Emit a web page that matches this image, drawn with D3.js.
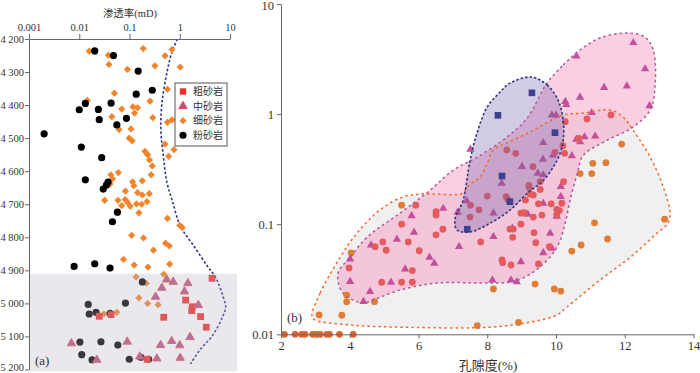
<!DOCTYPE html>
<html>
<head>
<meta charset="utf-8">
<script src="https://cdn.jsdelivr.net/npm/d3@7"></script>
<style>
body { margin: 0; background: #fff; }
svg text { font-family: "Liberation Serif", "Times New Roman", "Noto Sans CJK SC", serif; fill: #333; }
.axis path, .axis line { stroke: #666; }
</style>
</head>
<body>
<svg id="chart" width="700" height="373" font-family="Liberation Serif, Noto Sans CJK SC, serif"></svg>
<script>
const serif = "'Liberation Serif', 'Times New Roman', 'Noto Sans CJK SC', serif";

// ---------- panel (a): permeability vs depth ----------
const permTicks = [0.001, 0.01, 0.1, 1, 10];
const depthTicks = [4200, 4300, 4400, 4500, 4600, 4700, 4800, 4900, 5000, 5100, 5200];
const shadeDepth = [4910, 5200];
const legendNames = ["粗砂岩", "中砂岩", "细砂岩", "粉砂岩"];

// [permeability mD, depth m]
const coarseA = [[4.4,4924],[0.025,5039],[0.043,5034],[1.31,4990],[1.78,5010],[1.73,5022],[0.48,5042],[2.6,5040],[3.37,5072],[0.224,5169]];
const mediumA = [[0.55,4928],[0.74,4935],[1.45,4939],[0.44,4953],[1.24,4964],[0.33,4980],[2.34,5005],[0.007,5121],[0.090,5116],[0.415,5126],[0.69,5114],[1.0,5127],[1.6,5102],[0.0224,5171],[0.16,5161],[0.35,5167],[1.02,5165]];
const fineA = [[0.0158,4237],[0.038,4249],[0.188,4229],[0.51,4251],[0.70,4232],[0.039,4277],[0.091,4292],[0.32,4281],[1.02,4285],[0.57,4352],[0.05,4364],[0.256,4388],[0.0145,4386],[0.070,4412],[0.117,4405],[0.145,4408],[0.126,4424],[0.0445,4435],[0.29,4438],[0.57,4452],[0.70,4445],[0.107,4472],[0.062,4474],[0.099,4500],[0.113,4508],[0.51,4518],[0.77,4535],[0.203,4540],[0.23,4550],[0.60,4555],[0.25,4566],[0.284,4584],[0.060,4604],[0.0425,4611],[0.27,4611],[0.046,4623],[0.115,4632],[0.18,4629],[0.122,4644],[0.041,4639],[0.083,4660],[0.145,4665],[0.248,4668],[0.18,4672],[0.032,4688],[0.059,4688],[0.082,4686],[0.091,4694],[0.138,4699],[0.070,4704],[0.103,4706],[0.174,4700],[0.223,4692],[0.154,4726],[0.57,4743],[1.0,4764],[1.12,4770],[0.11,4794],[0.19,4802],[0.52,4818],[0.62,4826],[0.30,4839],[0.076,4867],[0.63,4881],[0.124,4884],[0.233,4890],[0.48,4912],[0.135,4920],[0.216,4939],[0.154,4983],[0.23,5000],[0.37,5004],[0.031,5032],[0.056,5027]];
const siltA = [[0.0203,4236],[0.048,4250],[0.149,4297],[0.284,4355],[0.136,4367],[0.0132,4395],[0.010,4414],[0.024,4413],[0.043,4394],[0.025,4444],[0.087,4440],[0.056,4460],[0.002,4487],[0.011,4527],[0.028,4559],[0.0132,4626],[0.0375,4633],[0.0347,4642],[0.030,4654],[0.0575,4724],[0.0457,4753],[0.0079,4888],[0.0203,4880],[0.041,4893],[0.18,4935],[0.0151,5003],[0.083,4999],[0.0158,5032],[0.0216,5027],[0.041,5030],[0.0103,5117],[0.027,5116],[0.0586,5126],[0.0112,5155],[0.018,5171],[0.099,5169],[0.169,5163],[0.24,5169]];
const trendA = [[0.90,4200],[0.70,4239],[0.56,4299],[0.445,4390],[0.42,4470],[0.46,4540],[0.56,4636],[0.70,4686],[1.03,4766],[1.9,4826],[3.53,4887],[5.2,4922],[7.4,4982],[8.2,5012],[7.05,5042],[4.45,5098],[2.6,5138],[1.64,5183]];

// ---------- panel (b): porosity vs permeability ----------
const porTicks = [2, 4, 6, 8, 10, 12, 14];
const kTicks = [0.01, 0.1, 1, 10];

// [porosity %, permeability mD]
const coarseB = [[9.30,1.56],[8.31,0.975],[9.97,0.678],[8.43,0.274],[8.66,0.160],[7.42,0.090]];
const mediumB = [[4.01,0.0483],[4.01,0.0301],[4.62,0.0647],[4.59,0.0244],[4.40,0.0198],[5.20,0.0297],[5.37,0.073],[5.61,0.0392],[5.80,0.119],[5.87,0.0844],[6.32,0.050],[6.46,0.0442],[6.72,0.139],[7.18,0.0625],[7.14,0.128],[7.40,0.163],[8.18,0.077],[8.15,0.0311],[8.69,0.0311],[8.86,0.030],[8.98,0.0456],[8.73,0.0916],[8.42,0.235],[9.18,0.123],[9.63,0.155],[9.83,0.0826],[9.63,0.055],[9.88,0.0604],[10.02,0.118],[10.14,0.178],[10.14,0.219],[8.18,0.126],[7.51,0.479],[9.01,0.333],[9.63,0.55],[9.62,0.388],[9.47,0.29],[9.63,0.28],[9.91,0.425],[9.88,0.98],[10.0,0.98],[10.27,1.30],[10.30,1.22],[10.70,1.42],[10.59,3.37],[12.25,4.45],[12.59,2.57],[11.40,1.74],[12.06,1.80],[12.72,1.19],[11.04,1.03],[10.59,0.59],[10.83,0.62],[11.14,0.63],[10.70,0.56],[10.46,0.417]];
const fineB = [[5.92,0.149],[5.51,0.100],[6.51,0.130],[6.51,0.121],[6.51,0.080],[6.71,0.090],[4.96,0.069],[4.74,0.0625],[5.06,0.058],[5.70,0.069],[6.02,0.0574],[3.98,0.040],[5.82,0.0379],[4.93,0.0297],[5.51,0.0297],[5.82,0.0297],[7.51,0.149],[7.50,0.116],[7.76,0.135],[8.0,0.180],[7.81,0.069],[8.55,0.178],[8.60,0.168],[9.22,0.216],[9.25,0.188],[9.34,0.184],[9.54,0.207],[9.11,0.166],[9.49,0.153],[9.86,0.153],[10.02,0.136],[10.17,0.155],[8.98,0.126],[9.07,0.127],[9.34,0.116],[9.59,0.121],[10.02,0.121],[10.10,0.133],[8.98,0.100],[8.66,0.0904],[8.76,0.0904],[8.74,0.076],[9.36,0.0838],[9.41,0.068],[9.81,0.0625],[8.43,0.0473],[8.45,0.0447],[8.69,0.0426],[9.49,0.0435],[8.57,0.472],[8.83,0.44],[9.33,0.333],[10.27,0.853],[10.90,0.904],[11.60,0.982],[10.20,0.516],[10.25,0.44],[9.97,0.45],[10.67,0.603],[10.22,0.243],[9.54,0.243],[9.21,0.225]];
const siltB = [[3.11,0.0150],[3.77,0.0149],[3.91,0.0227],[3.91,0.0198],[4.04,0.055],[4.72,0.0198],[5.51,0.149],[7.71,0.0120],[8.18,0.0258],[8.91,0.0128],[9.39,0.0286],[9.95,0.0258],[10.14,0.0247],[10.46,0.057],[10.73,0.0647],[11.12,0.103],[11.50,0.0734],[13.16,0.111],[11.91,0.534],[11.07,0.357],[11.45,0.362],[10.70,0.288],[11.04,0.288]];
const zeroB = [[2.10,0.01],[2.41,0.01],[2.60,0.01],[2.70,0.01],[2.92,0.01],[3.04,0.01],[3.14,0.01],[3.33,0.01],[3.41,0.01],[3.70,0.01],[4.10,0.01]];

// outlines of the hand-drawn zones
const zoneAll = [[2.90,0.0147],[3.14,0.0237],[3.72,0.050],[4.21,0.083],[4.88,0.135],[5.55,0.177],[6.05,0.188],[7.30,0.192],[7.41,0.218],[7.79,0.269],[8.0,0.36],[8.17,0.472],[8.58,0.547],[9.25,0.689],[10.21,0.98],[10.79,1.02],[11.58,1.09],[11.95,0.94],[12.24,0.716],[12.74,0.407],[13.12,0.218],[13.32,0.126],[13.26,0.1025],[12.94,0.083],[12.16,0.050],[11.28,0.0311],[10.32,0.0177],[10.03,0.0150],[9.25,0.0129],[8.08,0.0116],[5.55,0.0116],[4.10,0.0121],[2.99,0.0135]];
const zoneMedium = [[9.74,1.92],[10.21,2.79],[10.70,3.82],[11.28,4.91],[12.07,5.45],[12.59,5.0],[12.83,3.82],[12.88,1.76],[12.74,1.09],[12.24,0.76],[11.49,0.58],[10.79,0.42],[10.61,0.28],[10.41,0.166],[10.27,0.103],[10.03,0.062],[9.54,0.041],[9.04,0.0325],[8.66,0.0298],[7.88,0.0292],[6.54,0.0292],[5.46,0.0252],[4.68,0.0205],[4.39,0.0192],[3.80,0.0237],[3.66,0.036],[4.01,0.050],[4.50,0.076],[5.46,0.126],[6.34,0.204],[7.01,0.31],[7.70,0.405],[8.58,0.62],[9.16,0.92]];
const zoneCoarse = [[9.28,2.17],[9.74,1.84],[10.06,1.34],[10.21,0.88],[10.21,0.58],[10.12,0.44],[9.92,0.33],[9.63,0.25],[9.16,0.19],[8.66,0.134],[8.08,0.102],[7.50,0.085],[7.12,0.0885],[7.06,0.109],[7.30,0.166],[7.50,0.38],[7.70,0.67],[8.0,1.16],[8.37,1.58],[8.66,1.91]];

const svg = d3.select("#chart");

function symbolPath(type, size) {
    return d3.symbol().type(type).size(size)();
}

// ===== panel (a) =====
const xA = d3.scaleLog().domain([0.001, 10]).range([29, 230]);
const yA = d3.scaleLinear().domain([4200, 5200]).range([39, 369.5]);
const depthFmt = d3.formatLocale({decimal: ".", thousands: " ", grouping: [3], currency: ["", ""]}).format(",");

const gA = svg.append("g");

gA.append("path")
    .datum(trendA)
    .attr("fill", "none")
    .attr("stroke", "#2d3590")
    .attr("stroke-width", 1.6)
    .attr("stroke-dasharray", "2.5,2")
    .attr("d", d3.line()
        .x(d => xA(d[0]))
        .y(d => yA(d[1]))
        .curve(d3.curveCatmullRom.alpha(0.5)));

gA.selectAll(".fineA").data(fineA).join("path")
    .attr("d", symbolPath(d3.symbolSquare, 26))
    .attr("transform", d => "translate(" + xA(d[0]) + "," + yA(d[1]) + ") rotate(45)")
    .attr("fill", "#f0852c");

gA.selectAll(".siltA").data(siltA).join("circle")
    .attr("cx", d => xA(d[0]))
    .attr("cy", d => yA(d[1]))
    .attr("r", 3.6)
    .attr("fill", "#000");

gA.selectAll(".coarseA").data(coarseA).join("path")
    .attr("d", symbolPath(d3.symbolSquare, 46))
    .attr("transform", d => "translate(" + xA(d[0]) + "," + yA(d[1]) + ")")
    .attr("fill", "#ec2f2b");

gA.selectAll(".mediumA").data(mediumA).join("path")
    .attr("d", symbolPath(d3.symbolTriangle, 30))
    .attr("transform", d => "translate(" + xA(d[0]) + "," + yA(d[1]) + ")")
    .attr("fill", "#a3589a")
    .attr("stroke", "#ee4a45")
    .attr("stroke-width", 1);

// gray band over the lower interval
gA.append("rect")
    .attr("x", xA.range()[0] + 1)
    .attr("y", yA(shadeDepth[0]))
    .attr("width", xA.range()[1] - xA.range()[0] + 6)
    .attr("height", yA(shadeDepth[1]) - yA(shadeDepth[0]) + 2)
    .attr("fill", "rgb(186,182,194)")
    .attr("opacity", 0.31);

const axisTopA = gA.append("g")
    .attr("class", "axis")
    .attr("transform", "translate(0," + yA.range()[0] + ")")
    .call(d3.axisTop(xA).tickValues(permTicks).tickFormat(d3.format("~g")).tickSize(5).tickSizeOuter(0))
    .attr("font-family", serif);
axisTopA.selectAll("text").style("font-size", "10.5px").style("font-family", serif).attr("fill", "#333");

const axisLeftA = gA.append("g")
    .attr("class", "axis")
    .attr("transform", "translate(" + xA.range()[0] + ",0)")
    .call(d3.axisLeft(yA).tickValues(depthTicks).tickFormat(depthFmt).tickSize(4).tickSizeOuter(0))
    .attr("font-family", serif);
axisLeftA.selectAll("text").style("font-size", "10.5px").style("font-family", serif).attr("fill", "#333").attr("x", -5);
// keep the bottom depth label inside the picture
axisLeftA.selectAll(".tick text").filter(d => d === 5200).attr("dy", "0.12em");

gA.append("text")
    .attr("x", 130)
    .attr("y", 17)
    .attr("text-anchor", "middle")
    .style("font-size", "10.5px")
    .text("渗透率(mD)");

gA.append("text")
    .attr("x", 35)
    .attr("y", 365)
    .style("font-size", "13px")
    .text("(a)");

// legend
const legend = gA.append("g").attr("transform", "translate(175,83)");
legend.append("rect")
    .attr("width", 52)
    .attr("height", 63)
    .attr("fill", "#fff")
    .attr("stroke", "#555")
    .attr("stroke-width", 1);

const legendSymbols = [
    {type: d3.symbolSquare, size: 40, fill: "#ec2f2b", stroke: "none", rot: 0},
    {type: d3.symbolTriangle, size: 30, fill: "#a3589a", stroke: "#ee4a45", rot: 0},
    {type: d3.symbolSquare, size: 26, fill: "#f0852c", stroke: "none", rot: 45},
    {type: d3.symbolCircle, size: 40, fill: "#000", stroke: "none", rot: 0}
];
legendNames.forEach((name, i) => {
    const row = legend.append("g").attr("transform", "translate(0," + (8.5 + i * 14.6) + ")");
    row.append("path")
        .attr("d", symbolPath(legendSymbols[i].type, legendSymbols[i].size))
        .attr("transform", "translate(8,0) rotate(" + legendSymbols[i].rot + ")")
        .attr("fill", legendSymbols[i].fill)
        .attr("stroke", legendSymbols[i].stroke);
    row.append("text")
        .attr("x", 18)
        .attr("y", 3.5)
        .style("font-size", "10px")
        .attr("fill", "#555")
        .text(name);
});

// ===== panel (b) =====
const xB = d3.scaleLinear().domain([2, 14]).range([281, 693.5]);
const yB = d3.scaleLog().domain([0.01, 10]).range([334.3, 4]);

const gB = svg.append("g");

const zoneLine = d3.line()
    .x(d => xB(d[0]))
    .y(d => yB(d[1]))
    .curve(d3.curveCatmullRomClosed.alpha(0.5));

gB.append("path").datum(zoneAll)
    .attr("d", zoneLine)
    .attr("fill", "#f1f0f0");

gB.append("path").datum(zoneMedium)
    .attr("d", zoneLine)
    .attr("fill", "rgba(246,140,186,0.42)");

gB.selectAll(".zeroB").data(zeroB).join("circle")
    .attr("cx", d => xB(d[0]))
    .attr("cy", d => yB(d[1]))
    .attr("r", 3.4)
    .attr("fill", "#e2612c");

gB.selectAll(".siltB").data(siltB).join("circle")
    .attr("cx", d => xB(d[0]))
    .attr("cy", d => yB(d[1]))
    .attr("r", 3.4)
    .attr("fill", "#e07c34");

gB.selectAll(".mediumB").data(mediumB).join("path")
    .attr("d", symbolPath(d3.symbolTriangle, 30))
    .attr("transform", d => "translate(" + xB(d[0]) + "," + yB(d[1]) + ")")
    .attr("fill", "#c4509a");

gB.selectAll(".fineB").data(fineB).join("circle")
    .attr("cx", d => xB(d[0]))
    .attr("cy", d => yB(d[1]))
    .attr("r", 3.4)
    .attr("fill", "#e35b5d");

gB.append("path").datum(zoneCoarse)
    .attr("d", zoneLine)
    .attr("fill", "rgba(112,92,172,0.32)");

gB.selectAll(".coarseB").data(coarseB).join("path")
    .attr("d", symbolPath(d3.symbolSquare, 44))
    .attr("transform", d => "translate(" + xB(d[0]) + "," + yB(d[1]) + ")")
    .attr("fill", "#3e418f");

// dashed outlines
gB.append("path").datum(zoneAll)
    .attr("d", zoneLine)
    .attr("fill", "none")
    .attr("stroke", "#f06a30")
    .attr("stroke-width", 1.5)
    .attr("stroke-dasharray", "2.5,3");

gB.append("path").datum(zoneMedium)
    .attr("d", zoneLine)
    .attr("fill", "none")
    .attr("stroke", "#b4559c")
    .attr("stroke-width", 1.5)
    .attr("stroke-dasharray", "2.5,3");

gB.append("path").datum(zoneCoarse)
    .attr("d", zoneLine)
    .attr("fill", "none")
    .attr("stroke", "#2f3585")
    .attr("stroke-width", 1.6)
    .attr("stroke-dasharray", "2.5,2");

const axisBottomB = gB.append("g")
    .attr("class", "axis")
    .attr("transform", "translate(0," + yB.range()[0] + ")")
    .call(d3.axisBottom(xB).tickValues(porTicks).tickSize(4).tickSizeOuter(0))
    .attr("font-family", serif);
axisBottomB.selectAll("text").style("font-size", "12.5px").style("font-family", serif).attr("fill", "#333");

const axisLeftB = gB.append("g")
    .attr("class", "axis")
    .attr("transform", "translate(" + xB.range()[0] + ",0)")
    .call(d3.axisLeft(yB).tickValues(kTicks).tickFormat(d3.format("~g")).tickSize(4).tickSizeOuter(0))
    .attr("font-family", serif);
axisLeftB.selectAll("text").style("font-size", "12.5px").style("font-family", serif).attr("fill", "#333");
// keep the top label inside the picture, as in the reference
axisLeftB.selectAll(".tick text").filter(d => d === 10).attr("dy", "0.45em");

gB.append("text")
    .attr("x", 488)
    .attr("y", 370)
    .attr("text-anchor", "middle")
    .style("font-size", "13px")
    .text("孔隙度(%)");

gB.append("text")
    .attr("x", 287)
    .attr("y", 322)
    .style("font-size", "13px")
    .text("(b)");
</script>
</body>
</html>
